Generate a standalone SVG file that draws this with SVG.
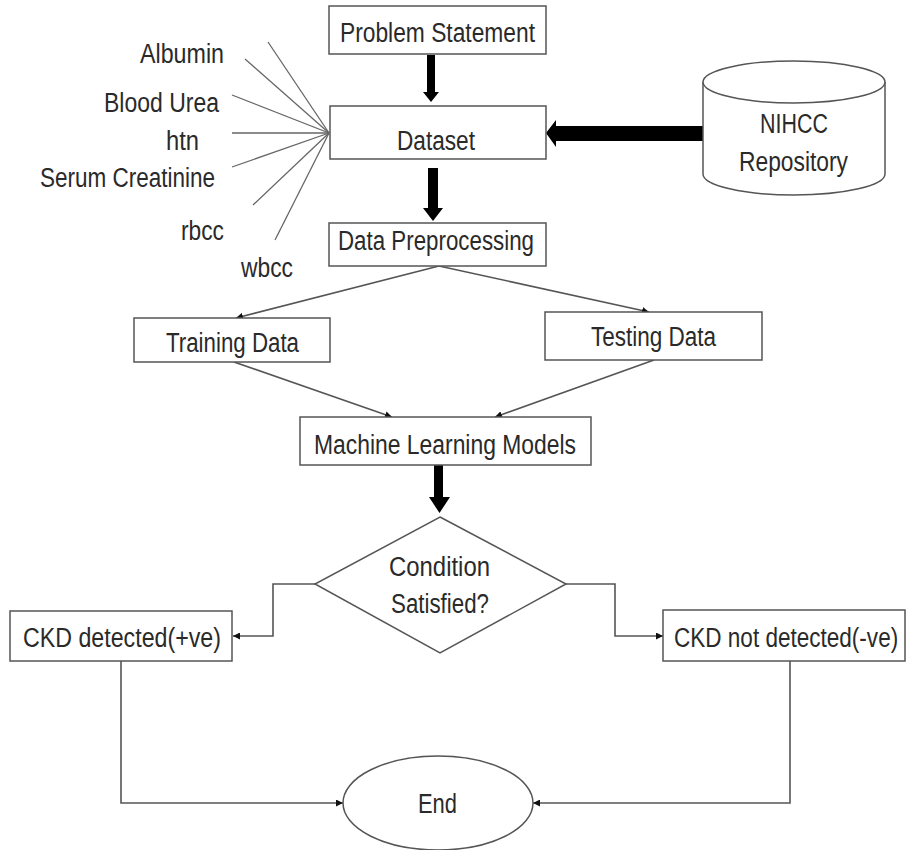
<svg xmlns="http://www.w3.org/2000/svg" width="907" height="850" viewBox="0 0 907 850">
  <defs>
    <marker id="tip" viewBox="0 0 10 10" refX="10" refY="5" markerWidth="7" markerHeight="7" markerUnits="userSpaceOnUse" orient="auto">
      <path d="M0,0 L10,5 L0,10 Z" fill="#111"/>
    </marker>
    <style>
      .box { fill: #fff; stroke: #555; stroke-width: 1.5; }
      .lbl { font-family: "Liberation Sans", "Noto Sans", sans-serif; font-size: 27px; fill: #2a2a2a; }
      .feat { stroke: #666; stroke-width: 1.3; fill: none; }
      .flow { stroke: #555; stroke-width: 1.6; fill: none; marker-end: url(#tip); }
      .bold { fill: #000; }
    </style>
  </defs>
  <rect width="907" height="850" fill="#fff"/>

  <!-- connectors -->
  <g id="connectors">
    <!-- attribute spokes into the dataset -->
    <line class="feat" x1="268" y1="42" x2="329" y2="133"/>
    <line class="feat" x1="245" y1="59" x2="329" y2="133"/>
    <line class="feat" x1="232" y1="95" x2="329" y2="133"/>
    <line class="feat" x1="232" y1="133" x2="329" y2="133"/>
    <line class="feat" x1="232" y1="167" x2="329" y2="133"/>
    <line class="feat" x1="253" y1="205" x2="329" y2="133"/>
    <line class="feat" x1="275" y1="240" x2="329" y2="133"/>

    <!-- block arrows -->
    <polygon class="bold" points="427,55 435,55 435,92 439,92 431,102 423,92 427,92"/>
    <polygon class="bold" points="428,168 438,168 438,208 443,208 433,221 423,208 428,208"/>
    <polygon class="bold" points="703,126 556,126 556,120 546,133 556,147 556,141 703,141"/>
    <polygon class="bold" points="434,465 443,465 443,497 450,497 439.5,513 429,497 434,497"/>

    <!-- thin flow arrows -->
    <line class="flow" x1="439" y1="266" x2="236" y2="318"/>
    <line class="flow" x1="439" y1="266" x2="649" y2="312"/>
    <line class="flow" x1="234" y1="362" x2="392" y2="417"/>
    <line class="flow" x1="654" y1="360" x2="495" y2="417"/>
    <polyline class="flow" points="315,584 273,584 273,636 233,636"/>
    <polyline class="flow" points="566,584 615,584 615,636 663,636"/>
    <polyline class="flow" points="121,661 121,803 343,803"/>
    <polyline class="flow" points="790,661 790,803 533,803"/>
  </g>

  <g id="attributes">
    <text class="lbl" x="140" y="63" textLength="84" lengthAdjust="spacingAndGlyphs">Albumin</text>
    <text class="lbl" x="104" y="112" textLength="115" lengthAdjust="spacingAndGlyphs">Blood Urea</text>
    <text class="lbl" x="166" y="150" textLength="33" lengthAdjust="spacingAndGlyphs">htn</text>
    <text class="lbl" x="40" y="187" textLength="175" lengthAdjust="spacingAndGlyphs">Serum Creatinine</text>
    <text class="lbl" x="181" y="240" textLength="43" lengthAdjust="spacingAndGlyphs">rbcc</text>
    <text class="lbl" x="241" y="277" textLength="52" lengthAdjust="spacingAndGlyphs">wbcc</text>
  </g>

  <g id="problem-statement">
    <rect class="box" x="329" y="6" width="217" height="48"/>
    <text class="lbl" x="340" y="42" textLength="195" lengthAdjust="spacingAndGlyphs">Problem Statement</text>
  </g>

  <g id="dataset">
    <rect class="box" x="330" y="106" width="216" height="53"/>
    <text class="lbl" x="397" y="150" textLength="78" lengthAdjust="spacingAndGlyphs">Dataset</text>
  </g>

  <g id="nihcc-repository">
    <path class="box" d="M703,82 L703,174 A91,21 0 0 0 885,174 L885,82 A91,21 0 0 0 703,82 Z"/>
    <path class="box" d="M703,82 A91,21 0 0 0 885,82" fill="none"/>
    <text class="lbl" x="760" y="133" textLength="68" lengthAdjust="spacingAndGlyphs">NIHCC</text>
    <text class="lbl" x="739" y="171" textLength="109" lengthAdjust="spacingAndGlyphs">Repository</text>
  </g>

  <g id="data-preprocessing">
    <rect class="box" x="329" y="223" width="217" height="43"/>
    <text class="lbl" x="338" y="250" textLength="196" lengthAdjust="spacingAndGlyphs">Data Preprocessing</text>
  </g>

  <g id="training-data">
    <rect class="box" x="134" y="318" width="196" height="44"/>
    <text class="lbl" x="166" y="352" textLength="133" lengthAdjust="spacingAndGlyphs">Training Data</text>
  </g>

  <g id="testing-data">
    <rect class="box" x="545" y="312" width="217" height="48"/>
    <text class="lbl" x="591" y="346" textLength="125" lengthAdjust="spacingAndGlyphs">Testing Data</text>
  </g>

  <g id="ml-models">
    <rect class="box" x="300" y="417" width="291" height="48"/>
    <text class="lbl" x="314" y="454" textLength="262" lengthAdjust="spacingAndGlyphs">Machine Learning Models</text>
  </g>

  <g id="condition">
    <polygon class="box" points="440,517 566,584 440,653 315,584"/>
    <text class="lbl" x="389" y="576" textLength="101" lengthAdjust="spacingAndGlyphs">Condition</text>
    <text class="lbl" x="391" y="613" textLength="98" lengthAdjust="spacingAndGlyphs">Satisfied?</text>
  </g>

  <g id="ckd-positive">
    <rect class="box" x="10" y="611" width="222" height="50"/>
    <text class="lbl" x="23" y="647" textLength="198" lengthAdjust="spacingAndGlyphs">CKD detected(+ve)</text>
  </g>

  <g id="ckd-negative">
    <rect class="box" x="663" y="610" width="242" height="51"/>
    <!-- horizontally squeezed so the label stays inside the right edge -->
    <text class="lbl" transform="translate(674,647) scale(0.835,1)" x="0" y="0">CKD not detected(-ve)</text>
  </g>

  <g id="end">
    <ellipse class="box" cx="438" cy="803" rx="95" ry="47"/>
    <text class="lbl" x="418" y="813" textLength="39" lengthAdjust="spacingAndGlyphs">End</text>
  </g>
</svg>
